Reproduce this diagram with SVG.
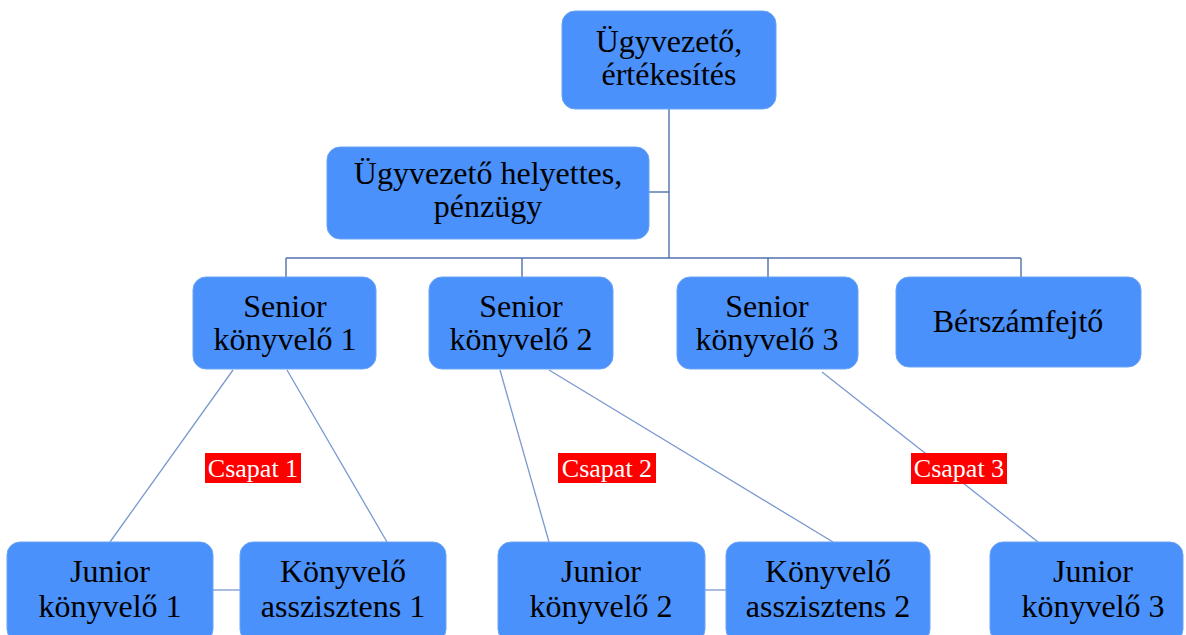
<svg xmlns="http://www.w3.org/2000/svg" width="1186" height="635" viewBox="0 0 1186 635">
  <style>
    .box { fill: #4a91fb; stroke: #6aa3f5; stroke-width: 1; }
    .lbl { font-family: "Liberation Serif", "Times New Roman", serif; font-size: 32px; fill: #000; text-anchor: middle; }
    .tag { fill: #ff0000; }
    .tagtxt { font-family: "Liberation Serif", "Times New Roman", serif; font-size: 26px; fill: #fff; text-anchor: middle; }
    .tree { stroke: #4f6fa8; stroke-width: 1.4; fill: none; }
    .link { stroke: #7a98d0; stroke-width: 1.3; fill: none; }
  </style>

  <!-- connectors -->
  <g id="connectors">
    <polyline class="tree" points="669,109 669,258"/>
    <line class="tree" x1="649" y1="192" x2="669" y2="192"/>
    <line class="tree" x1="286" y1="258" x2="1021" y2="258"/>
    <line class="tree" x1="286" y1="258" x2="286" y2="277"/>
    <line class="tree" x1="522" y1="258" x2="522" y2="277"/>
    <line class="tree" x1="768" y1="258" x2="768" y2="277"/>
    <line class="tree" x1="1021" y1="258" x2="1021" y2="277"/>

    <line class="link" x1="233" y1="370" x2="110" y2="542"/>
    <line class="link" x1="287" y1="370" x2="387" y2="542"/>
    <line class="link" x1="500" y1="370" x2="549" y2="542"/>
    <line class="link" x1="549" y1="370" x2="833" y2="542"/>
    <line class="link" x1="822" y1="372" x2="1038" y2="542"/>
    <line class="link" x1="213" y1="590" x2="240" y2="590"/>
    <line class="link" x1="705" y1="590" x2="726" y2="590"/>
  </g>

  <g id="ugyvezeto">
    <rect class="box" x="562" y="11" width="214" height="98" rx="13"/>
    <text class="lbl" x="669" y="52">Ügyvezető,</text>
    <text class="lbl" x="669" y="85">értékesítés</text>
  </g>

  <g id="helyettes">
    <rect class="box" x="327" y="147" width="322" height="92" rx="13"/>
    <text class="lbl" x="488" y="184">Ügyvezető helyettes,</text>
    <text class="lbl" x="488" y="217">pénzügy</text>
  </g>

  <g id="senior1">
    <rect class="box" x="193" y="277" width="183" height="92" rx="13"/>
    <text class="lbl" x="285" y="317">Senior</text>
    <text class="lbl" x="285" y="350">könyvelő 1</text>
  </g>

  <g id="senior2">
    <rect class="box" x="429" y="277" width="184" height="92" rx="13"/>
    <text class="lbl" x="521" y="317">Senior</text>
    <text class="lbl" x="521" y="350">könyvelő 2</text>
  </g>

  <g id="senior3">
    <rect class="box" x="677" y="277" width="181" height="92" rx="13"/>
    <text class="lbl" x="767" y="317">Senior</text>
    <text class="lbl" x="767" y="350">könyvelő 3</text>
  </g>

  <g id="berszamfejto">
    <rect class="box" x="896" y="277" width="245" height="90" rx="13"/>
    <text class="lbl" x="1018" y="332">Bérszámfejtő</text>
  </g>

  <g id="junior1">
    <rect class="box" x="7" y="542" width="206" height="100" rx="13"/>
    <text class="lbl" x="110" y="582">Junior</text>
    <text class="lbl" x="110" y="617">könyvelő 1</text>
  </g>

  <g id="asszisztens1">
    <rect class="box" x="240" y="542" width="206" height="100" rx="13"/>
    <text class="lbl" x="343" y="582">Könyvelő</text>
    <text class="lbl" x="343" y="617">asszisztens 1</text>
  </g>

  <g id="junior2">
    <rect class="box" x="498" y="542" width="207" height="100" rx="13"/>
    <text class="lbl" x="601" y="582">Junior</text>
    <text class="lbl" x="601" y="617">könyvelő 2</text>
  </g>

  <g id="asszisztens2">
    <rect class="box" x="726" y="542" width="204" height="100" rx="13"/>
    <text class="lbl" x="828" y="582">Könyvelő</text>
    <text class="lbl" x="828" y="617">asszisztens 2</text>
  </g>

  <g id="junior3">
    <rect class="box" x="990" y="542" width="193" height="100" rx="13"/>
    <text class="lbl" x="1093" y="582">Junior</text>
    <text class="lbl" x="1093" y="617">könyvelő 3</text>
  </g>

  <!-- team labels -->
  <g id="csapat1">
    <rect class="tag" x="205" y="453" width="96" height="30"/>
    <text class="tagtxt" x="253" y="477">Csapat 1</text>
  </g>
  <g id="csapat2">
    <rect class="tag" x="558" y="453" width="98" height="30"/>
    <text class="tagtxt" x="607" y="477">Csapat 2</text>
  </g>
  <g id="csapat3">
    <rect class="tag" x="911" y="453" width="96" height="31"/>
    <text class="tagtxt" x="959" y="477">Csapat 3</text>
  </g>
</svg>
